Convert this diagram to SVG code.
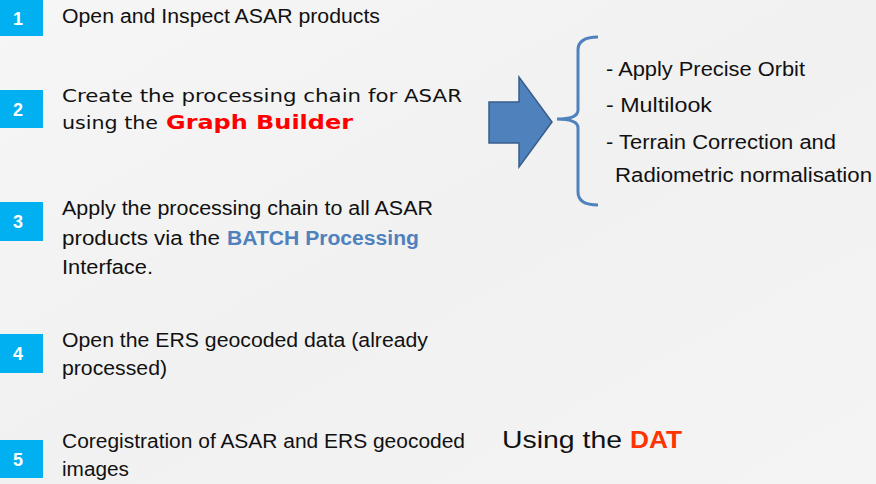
<svg xmlns="http://www.w3.org/2000/svg" width="876" height="484" viewBox="0 0 876 484">
<defs>
<linearGradient id="bg" x1="0" y1="0" x2="1" y2="1">
<stop offset="0" stop-color="#f6f6f6"/>
<stop offset="0.5" stop-color="#f1f1f1"/>
<stop offset="1" stop-color="#f4f4f4"/>
</linearGradient>
<style>
.num{fill:#00b0f0}
.nt{font-family:"Liberation Sans",Arial,sans-serif;font-weight:bold;font-size:18px;fill:#ffffff;text-anchor:middle}
.c{font-family:"Liberation Sans",Arial,sans-serif;font-size:20px;fill:#111111}
.v{font-family:"DejaVu Sans",Verdana,sans-serif;font-size:18px;fill:#111111}
.gb{font-family:"DejaVu Sans",Verdana,sans-serif;font-size:19px;font-weight:bold;fill:#ff0000}
.batch{font-family:"Liberation Sans",Arial,sans-serif;font-size:20px;font-weight:bold;fill:#4f81bd}
.dat{font-family:"Liberation Sans",Arial,sans-serif;font-size:24px;font-weight:bold;fill:#ff3300}
.big{font-family:"Liberation Sans",Arial,sans-serif;font-size:24px;fill:#111111}
</style>
</defs>
<rect x="0" y="0" width="876" height="484" fill="url(#bg)"/>

<g id="step1">
<rect class="num" x="0" y="0" width="43" height="36"/>
<text class="nt" x="18" y="25">1</text>
<text class="c" x="62" y="23" textLength="318" lengthAdjust="spacingAndGlyphs">Open and Inspect ASAR products</text>
</g>

<g id="step2">
<rect class="num" x="0" y="90" width="43" height="38"/>
<text class="nt" x="18" y="116">2</text>
<text class="v" x="62" y="102" textLength="400" lengthAdjust="spacingAndGlyphs">Create the processing chain for ASAR</text>
<text class="v" x="62" y="129" textLength="96" lengthAdjust="spacingAndGlyphs">using the</text>
<text class="gb" x="166" y="129" textLength="187" lengthAdjust="spacingAndGlyphs">Graph Builder</text>
</g>

<g id="step3">
<rect class="num" x="0" y="202" width="43" height="39"/>
<text class="nt" x="18" y="228">3</text>
<text class="c" x="62" y="215" textLength="371" lengthAdjust="spacingAndGlyphs">Apply the processing chain to all ASAR</text>
<text class="c" x="62" y="245" textLength="158" lengthAdjust="spacingAndGlyphs">products via the</text>
<text class="batch" x="227" y="245" textLength="192" lengthAdjust="spacingAndGlyphs">BATCH Processing</text>
<text class="c" x="62" y="274" textLength="91" lengthAdjust="spacingAndGlyphs">Interface.</text>
</g>

<g id="step4">
<rect class="num" x="0" y="334" width="43" height="39"/>
<text class="nt" x="18" y="360">4</text>
<text class="c" x="62" y="347" textLength="366" lengthAdjust="spacingAndGlyphs">Open the ERS geocoded data (already</text>
<text class="c" x="62" y="375" textLength="105" lengthAdjust="spacingAndGlyphs">processed)</text>
</g>

<g id="step5">
<rect class="num" x="0" y="440" width="43" height="38"/>
<text class="nt" x="18" y="466">5</text>
<text class="c" x="62" y="448" textLength="403" lengthAdjust="spacingAndGlyphs">Coregistration of ASAR and ERS geocoded</text>
<text class="c" x="62" y="476" textLength="67" lengthAdjust="spacingAndGlyphs">images</text>
</g>

<g id="using-dat">
<text class="big" x="502" y="448" textLength="120" lengthAdjust="spacingAndGlyphs">Using the</text>
<text class="dat" x="630" y="448" textLength="52" lengthAdjust="spacingAndGlyphs">DAT</text>
</g>

<g id="connectors">
<polygon points="489,102 519,102 519,77 552,122 519,167 519,143 489,143" fill="#4f81bd" stroke="#385d8a" stroke-width="1.5"/>
<path d="M598,37 Q578,37 578,50 L578,110 Q578,119 557,119 Q578,119 578,128 L578,192 Q578,205 598,205" fill="none" stroke="#4f81bd" stroke-width="3"/>
</g>

<g id="ops">
<text class="c" x="606" y="76" textLength="199" lengthAdjust="spacingAndGlyphs">- Apply Precise Orbit</text>
<text class="c" x="606" y="112" textLength="106" lengthAdjust="spacingAndGlyphs">- Multilook</text>
<text class="c" x="606" y="149" textLength="230" lengthAdjust="spacingAndGlyphs">- Terrain Correction and</text>
<text class="c" x="615" y="182" textLength="257" lengthAdjust="spacingAndGlyphs">Radiometric normalisation</text>
</g>
</svg>
